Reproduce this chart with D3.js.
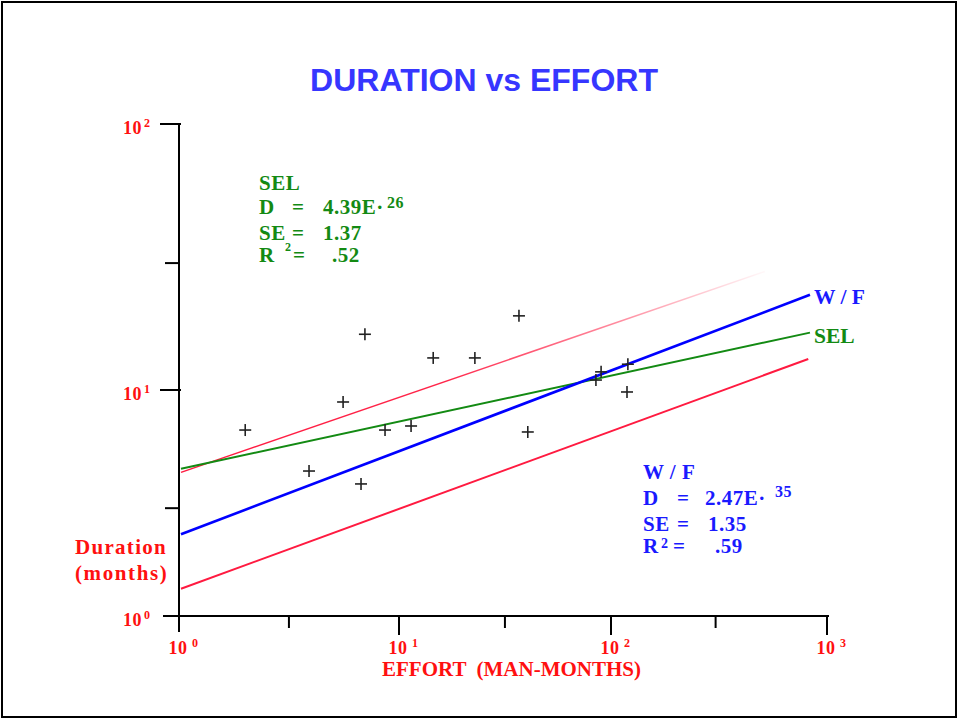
<!DOCTYPE html>
<html>
<head>
<meta charset="utf-8">
<script src="https://cdn.jsdelivr.net/npm/d3@7"></script>
<style>
  body { margin: 0; background: #fff; }
  svg { display: block; }
  .serif { font-family: "Liberation Serif", "Times New Roman", serif; font-weight: bold; }
</style>
</head>
<body>
<svg id="chart" width="960" height="721"></svg>
<script>
// Decade ticks and in-between ticks on both log axes
const xDecades = [1, 10, 100, 1000];
const yDecades = [1, 10, 100];
const xMinorTicks = [3.16, 31.6, 305];
const yMinorTicks = [3, 30];
const xExponents = ["0", "1", "2", "3"];
const yExponents = ["0", "1", "2"];

// Projects: effort (man-months) and duration (months)
const effort   = [2.0, 3.9, 5.57, 7.0, 6.72, 8.64, 11.4, 14.5, 22.8, 36.8, 40.5, 84.9, 89.8, 118.6, 119.7];
const duration = [6.65, 4.38, 8.85, 16.2, 3.84, 6.65, 6.93, 13.2, 13.2, 19.0, 6.52, 10.9, 11.7, 9.8, 12.5];

// Fitted lines, as [effort, duration] end points
const selFit    = [[1.021, 4.48], [834, 16.43]];
const wfFit     = [[1.021, 2.30], [834, 22.8]];
const upperBand = [[1.021, 4.32], [516, 27.9]];
const lowerBand = [[1.021, 1.32], [819, 13.08]];

// Regression summaries
const selStats = { name: "SEL",   coef: "4.39E\u00B7", exp: "26", se: "1.37", r2: ".52" };
const wfStats  = { name: "W / F", coef: "2.47E\u00B7", exp: "35", se: "1.35", r2: ".59" };

const RED = "#ff1010", LINE_RED = "#ff1a40", GREEN = "#138a13", BLUE = "#1a1aff";

const svg = d3.select("#chart");

// Frame
svg.append("rect").attr("x", 2).attr("y", 2).attr("width", 954).attr("height", 715)
  .attr("fill", "none").attr("stroke", "#000").attr("stroke-width", 2);

// Title
svg.append("text").attr("x", 484).attr("y", 91).attr("text-anchor", "middle")
  .attr("font-family", "'Liberation Sans', Arial, sans-serif").attr("font-weight", "bold")
  .attr("font-size", 32).attr("fill", "#3636ff").text("DURATION vs EFFORT");

// Log scales (each decade keeps its own length)
const x = d3.scaleLog().domain(xDecades).range([179, 399, 611, 827]);
const y = d3.scaleLog().domain(yDecades).range([616, 390, 124]);

// Axes
const axes = svg.append("g").attr("stroke", "#000").attr("stroke-width", 2);
axes.append("line").attr("x1", 163).attr("x2", 829).attr("y1", y(1)).attr("y2", y(1));
axes.append("line").attr("x1", x(1)).attr("x2", x(1)).attr("y1", y(100)).attr("y2", 632);

xDecades.slice(1).forEach(v => {
  axes.append("line").attr("x1", x(v)).attr("x2", x(v)).attr("y1", y(1)).attr("y2", y(1) + 19);
});
xMinorTicks.forEach(v => {
  axes.append("line").attr("x1", x(v)).attr("x2", x(v)).attr("y1", y(1)).attr("y2", y(1) + 12);
});
yDecades.slice(1).forEach(v => {
  axes.append("line").attr("x1", x(1) - 19).attr("x2", x(1) + 2).attr("y1", y(v)).attr("y2", y(v));
});
yMinorTicks.forEach(v => {
  axes.append("line").attr("x1", x(1) - 14).attr("x2", x(1)).attr("y1", y(v)).attr("y2", y(v));
});

// Tick labels: 10 with a raised exponent
const tickLabels = svg.append("g").attr("class", "serif").attr("fill", RED);
xDecades.forEach((v, i) => {
  tickLabels.append("text").attr("x", x(v) - 1).attr("y", 654).attr("text-anchor", "middle")
    .attr("font-size", 18).attr("letter-spacing", 0.5).text("10");
  tickLabels.append("text").attr("x", x(v) + 13).attr("y", 647)
    .attr("font-size", 12).text(xExponents[i]);
});
yDecades.forEach((v, i) => {
  tickLabels.append("text").attr("x", 142).attr("y", y(v) + 10).attr("text-anchor", "end")
    .attr("font-size", 18).attr("letter-spacing", 0.5).text("10");
  tickLabels.append("text").attr("x", 144).attr("y", y(v) + 3)
    .attr("font-size", 12).text(yExponents[i]);
});

// Axis titles
tickLabels.append("text").attr("x", 382).attr("y", 676).attr("font-size", 21)
  .style("white-space", "pre").text("EFFORT  (MAN-MONTHS)");
tickLabels.append("text").attr("x", 75).attr("y", 554).attr("font-size", 21)
  .attr("letter-spacing", 1.3).text("Duration");
tickLabels.append("text").attr("x", 75).attr("y", 580).attr("font-size", 21)
  .attr("letter-spacing", 1.6).text("(months)");

// Fade for the upper band
const defs = svg.append("defs");
const grad = defs.append("linearGradient").attr("id", "upperFade")
  .attr("gradientUnits", "userSpaceOnUse")
  .attr("x1", x(upperBand[0][0])).attr("y1", y(upperBand[0][1]))
  .attr("x2", x(upperBand[1][0])).attr("y2", y(upperBand[1][1]));
[[0, 1], [0.45, 0.95], [0.75, 0.5], [1, 0.03]].forEach(([o, a]) => {
  grad.append("stop").attr("offset", o).attr("stop-color", LINE_RED).attr("stop-opacity", a);
});

const line = d3.line().x(d => x(d[0])).y(d => y(d[1]));
const fits = svg.append("g").attr("fill", "none");
fits.append("path").attr("d", line(upperBand)).attr("stroke", "url(#upperFade)").attr("stroke-width", 1.5);
fits.append("path").attr("d", line(lowerBand)).attr("stroke", LINE_RED).attr("stroke-width", 2);
fits.append("path").attr("d", line(selFit)).attr("stroke", GREEN).attr("stroke-width", 2);
fits.append("path").attr("d", line(wfFit)).attr("stroke", "#0000ff").attr("stroke-width", 2.6);

// Data points as plus marks
const pts = svg.append("g").attr("stroke", "#222").attr("stroke-width", 1.6);
effort.forEach((e, i) => {
  const cx = x(e), cy = y(duration[i]);
  pts.append("line").attr("x1", cx - 6).attr("x2", cx + 6).attr("y1", cy).attr("y2", cy);
  pts.append("line").attr("x1", cx).attr("x2", cx).attr("y1", cy - 6).attr("y2", cy + 6);
});

// Line end labels
const ends = svg.append("g").attr("class", "serif").attr("font-size", 21.5);
ends.append("text").attr("x", 814).attr("y", 304).attr("fill", BLUE).text(wfStats.name);
ends.append("text").attr("x", 814).attr("y", 343).attr("fill", GREEN).text(selStats.name);

// Regression summary blocks
function statBlock(s, color, x0, rows, eqX, valX, supPos, r2Pos, r2EqX, r2Size) {
  const g = svg.append("g").attr("class", "serif").attr("fill", color)
    .attr("font-size", 21).attr("letter-spacing", 0.5);
  g.append("text").attr("x", x0).attr("y", rows[0]).text(s.name);
  g.append("text").attr("x", x0).attr("y", rows[1]).text("D");
  g.append("text").attr("x", eqX).attr("y", rows[1]).text("=");
  g.append("text").attr("x", valX[0]).attr("y", rows[1]).text(s.coef);
  g.append("text").attr("x", supPos[0]).attr("y", supPos[1]).attr("font-size", 16).text(s.exp);
  g.append("text").attr("x", x0).attr("y", rows[2]).text("SE");
  g.append("text").attr("x", eqX).attr("y", rows[2]).text("=");
  g.append("text").attr("x", valX[1]).attr("y", rows[2]).text(s.se);
  g.append("text").attr("x", x0).attr("y", rows[3]).text("R");
  g.append("text").attr("x", r2Pos[0]).attr("y", r2Pos[1]).attr("font-size", r2Size).text("2");
  g.append("text").attr("x", r2EqX).attr("y", rows[3]).text("=");
  g.append("text").attr("x", valX[2]).attr("y", rows[3]).text(s.r2);
}
statBlock(selStats, GREEN, 259, [190, 214, 240, 262], 292, [323, 323, 332], [387, 208], [285, 251], 293, 12);
statBlock(wfStats, BLUE, 643, [479, 505, 531, 553], 677, [705, 708, 715], [775, 497], [661, 548], 673, 14);
</script>
</body>
</html>
